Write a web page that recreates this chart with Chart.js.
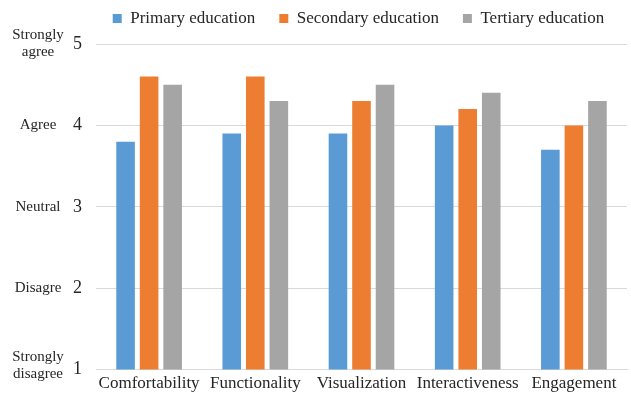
<!DOCTYPE html>
<html>
<head>
<meta charset="utf-8">
<script src="https://cdn.jsdelivr.net/npm/chart.js@4/dist/chart.umd.min.js"></script>
<style>
  body { margin: 0; background: #fff; }
  #wrap { width: 631px; height: 400px; }
</style>
</head>
<body>
<div id="wrap"><canvas id="chart"></canvas></div>
<script>
const categories = ['Comfortability', 'Functionality', 'Visualization', 'Interactiveness', 'Engagement'];
const primary = [3.8, 3.9, 3.9, 4.0, 3.7];
const secondary = [4.6, 4.6, 4.3, 4.2, 4.0];
const tertiary = [4.5, 4.3, 4.5, 4.4, 4.3];
const scaleLabels = { 1: ['Strongly', 'disagree'], 2: ['Disagre'], 3: ['Neutral'], 4: ['Agree'], 5: ['Strongly', 'agree'] };

const serif = '"Liberation Serif", "Times New Roman", serif';

// draws the word labels to the left of the numeric ticks
const likertLabels = {
  id: 'likertLabels',
  afterDraw(chart) {
    const ctx = chart.ctx;
    const y = chart.scales.y;
    ctx.save();
    ctx.font = '15px ' + serif;
    ctx.fillStyle = '#262626';
    ctx.textAlign = 'center';
    ctx.textBaseline = 'middle';
    Object.keys(scaleLabels).forEach(v => {
      const lines = scaleLabels[v];
      const py = y.getPixelForValue(Number(v));
      const lh = 17;
      const shift = Number(v) === 1 ? -4 : 0;
      const start = py - (lines.length - 1) * lh / 2 + shift;
      lines.forEach((t, i) => ctx.fillText(t, 38, start + i * lh));
    });
    ctx.restore();
  }
};

// taller legend box, and legend nudged right so it sits over the plot area
const legendLayout = {
  id: 'legendLayout',
  beforeUpdate(chart) {
    const legend = chart.legend;
    if (!legend || legend._patched) return;
    const fit = legend.fit;
    legend.fit = function () {
      fit.call(this);
      this.height = 58;
    };
    legend._patched = true;
  },
  afterLayout(chart) {
    const legend = chart.legend;
    if (!legend) return;
    legend.left += 45;
    legend.right += 45;
  }
};

new Chart(document.getElementById('chart'), {
  type: 'bar',
  data: {
    labels: categories,
    datasets: [
      { label: 'Primary education', data: primary, backgroundColor: '#5b9bd5' },
      { label: 'Secondary education', data: secondary, backgroundColor: '#ed7d31' },
      { label: 'Tertiary education', data: tertiary, backgroundColor: '#a5a5a5' }
    ]
  },
  options: {
    responsive: true,
    maintainAspectRatio: false,
    animation: false,
    categoryPercentage: 0.665,
    barPercentage: 0.79,
    layout: { padding: { left: 0, right: 4, top: -14, bottom: 2 } },
    plugins: {
      legend: {
        position: 'top',
        labels: {
          boxWidth: 9,
          boxHeight: 9,
          padding: 24,
          color: '#262626',
          font: { family: serif, size: 17 }
        }
      },
      tooltip: { enabled: false }
    },
    scales: {
      x: {
        grid: { display: false, drawTicks: false },
        border: { color: '#d9d9d9' },
        ticks: {
          color: '#262626', font: { family: serif, size: 17 }, padding: 4,
          maxRotation: 0, minRotation: 0, autoSkip: false
        }
      },
      y: {
        min: 1,
        max: 5,
        afterFit: (scale) => { scale.width = 96; },
        grid: { color: '#d9d9d9', drawTicks: false },
        border: { display: false },
        ticks: { stepSize: 1, padding: 14, color: '#262626', font: { family: serif, size: 18 } }
      }
    }
  },
  plugins: [legendLayout, likertLabels]
});
</script>
</body>
</html>
